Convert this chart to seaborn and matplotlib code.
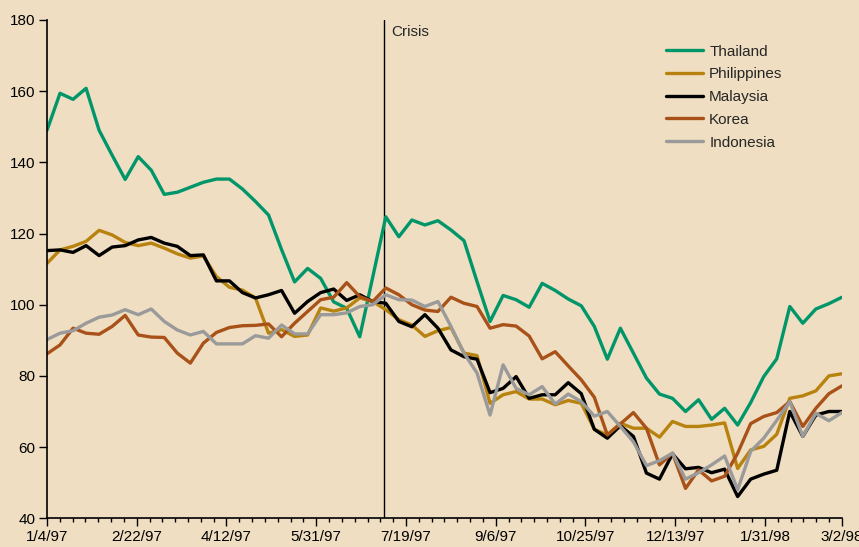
import numpy as np
import pandas as pd
import matplotlib
matplotlib.use("Agg")
import matplotlib.pyplot as plt
from matplotlib.ticker import MultipleLocator
import seaborn as sns

# weekly index values, 1/4/97 .. early 3/98
thailand = [149, 159.4, 157.7, 160.8, 149, 142, 135.2, 141.6, 137.8, 131, 131.6, 133, 134.4, 135.3, 135.3,
            132.5, 129, 125.2, 115.5, 106.4, 110.2, 107.4, 100.8, 99, 91, 107.8, 124.7, 119.1, 123.8, 122.4,
            123.6, 121, 118, 106.5, 95.3, 102.6, 101.4, 99.3, 106, 104, 101.6, 99.7, 93.9, 84.7, 93.4,
            86.4, 79.4, 74.9, 73.7, 70, 73.3, 67.8, 70.9, 66.2, 72.5, 79.8, 84.8, 99.5, 94.8, 98.8, 100.3, 102.1]
philippines = [111.6, 115.4, 116.4, 117.8, 120.9, 119.6, 117.5, 116.6, 117.3, 115.9, 114.3, 113.1, 113.7, 107.9, 104.9,
               104.1, 101.9, 92, 93, 91.1, 91.5, 99.1, 98.2, 99.1, 101.9, 100.9, 98.6, 95.8, 94.3, 91.1,
               92.7, 93.6, 86.4, 85.7, 72.3, 74.7, 75.6, 73.5, 73.5, 71.9, 73.1, 72.3, 65, 63.4, 66.7,
               65.3, 65.3, 62.8, 67.2, 65.8, 65.8, 66.2, 66.8, 54, 59.2, 60.2, 63.6, 73.7, 74.4, 75.8, 80, 80.6]
malaysia = [115.2, 115.4, 114.7, 116.6, 113.8, 116.2, 116.6, 118.2, 118.9, 117.3, 116.4, 113.8, 114, 106.7, 106.7,
            103.4, 101.9, 102.8, 104, 97.6, 100.9, 103.4, 104.4, 101.2, 102.8, 100.9, 100.4, 95.3, 93.8, 97.2,
            93.4, 87.3, 85.4, 84.7, 75.3, 76.5, 79.8, 73.7, 74.7, 74.7, 78.1, 75, 65, 62.5, 66,
            63, 52.7, 51, 58.1, 53.9, 54.3, 52.8, 53.8, 46.1, 51, 52.4, 53.5, 70, 63, 69, 70, 70]
korea = [86.2, 88.7, 93.4, 92, 91.7, 93.9, 97, 91.5, 90.9, 90.8, 86.4, 83.6, 89.2, 92.2, 93.6,
         94.1, 94.2, 94.6, 91, 94.8, 98.1, 101.4, 102.1, 106.2, 102.3, 100.9, 104.7, 102.8, 100, 98.5,
         98.1, 102.1, 100.4, 99.5, 93.4, 94.4, 94, 91.2, 84.8, 86.8, 82.8, 78.9, 74, 63.4, 66.5,
         69.7, 65.3, 55, 58.3, 48.4, 53.6, 50.5, 51.8, 58.3, 66.6, 68.6, 69.7, 72.8, 65.8, 70.9, 75, 77.2]
indonesia = [90.2, 92, 92.7, 94.8, 96.5, 97.1, 98.6, 97.2, 98.8, 95.3, 92.9, 91.5, 92.5, 89, 89,
             89, 91.3, 90.6, 94.3, 91.8, 91.8, 97.2, 97.2, 97.7, 99.5, 100, 102.8, 101.4, 101.3, 99.5,
             100.9, 93.9, 86.4, 80.8, 69, 83.1, 76.5, 74.7, 77, 72.1, 74.9, 72.8, 68.7, 70, 65.8,
             61.5, 54.8, 56.2, 58.3, 51, 52.8, 55, 57.5, 48, 58.8, 62.5, 67.5, 72.8, 63, 69.5, 67.4, 69.7]

countries = ["Thailand", "Philippines", "Malaysia", "Korea", "Indonesia"]
colors = ["#00966a", "#b8820e", "#000000", "#a8521a", "#9a9a9a"]
tick_labels = ["1/4/97", "2/22/97", "4/12/97", "5/31/97", "7/19/97", "9/6/97",
               "10/25/97", "12/13/97", "1/31/98", "3/2/98"]
crisis_week = 26.3

bg = "#efdec1"

sns.set_style("ticks")
plt.rcParams["font.family"] = ["Liberation Sans", "DejaVu Sans"]
plt.rcParams["font.size"] = 11

series = [thailand, philippines, malaysia, korea, indonesia]
n = len(thailand)
weeks = np.linspace(0, 62, n)
df = pd.concat([pd.DataFrame({"week": weeks, "value": s, "country": c})
                for s, c in zip(series, countries)], ignore_index=True)

fig = plt.figure(figsize=(8.59, 5.47), dpi=100, facecolor=bg)
ax = fig.add_axes([0.0547, 0.0525, 0.9254, 0.911])
ax.set_facecolor(bg)

sns.lineplot(data=df, x="week", y="value", hue="country", hue_order=countries,
             palette=dict(zip(countries, colors)), linewidth=2.4, estimator=None,
             sort=False, ax=ax)

ax.axvline(crisis_week, color="black", linewidth=1.0, zorder=1)
ax.text(crisis_week + 0.55, 176.5, "Crisis", ha="left", va="center", fontsize=11)

ax.set_xlim(0, 62)
ax.set_ylim(40, 180)
ax.set_yticks(range(40, 181, 20))
ax.set_xticks(list(range(0, 57, 7)) + [62])
ax.set_xticklabels(tick_labels)
ax.xaxis.set_minor_locator(MultipleLocator(1))
ax.tick_params(axis="both", which="major", direction="out", length=5.5, width=1, colors="black", pad=3)
ax.tick_params(axis="x", which="minor", direction="out", length=3, width=1, colors="black")
ax.set_xlabel("")
ax.set_ylabel("")
for side in ["top", "right"]:
    ax.spines[side].set_visible(False)
for side in ["left", "bottom"]:
    ax.spines[side].set_color("black")
    ax.spines[side].set_linewidth(1.2)

ax.legend(title=None, frameon=False, loc="upper left", bbox_to_anchor=(0.762, 0.978),
          handlelength=2.4, labelspacing=0.57, handletextpad=0.4, fontsize=11)

fig.savefig("out.png", dpi=100, facecolor=bg)
